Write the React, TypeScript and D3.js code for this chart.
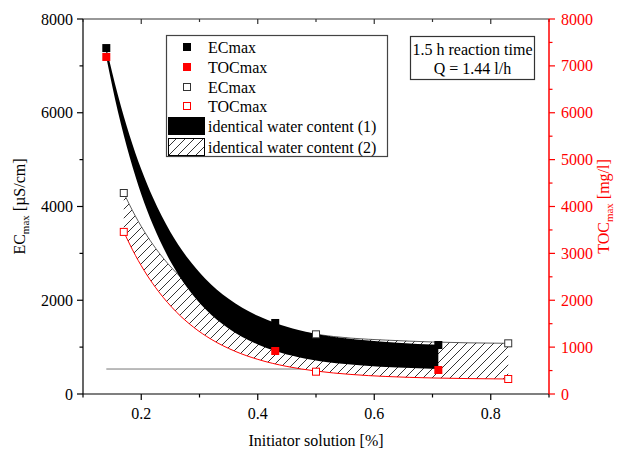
import React from "react";
import * as d3 from "d3";

// ---- data ----
const ecFilledX = [0.14, 0.43, 0.71];
const ecFilled = [7380, 1515, 1045];
const tocFilledX = [0.14, 0.43, 0.71];
const tocFilled = [7190, 917, 512];
const ecOpenX = [0.17, 0.5, 0.83];
const ecOpen = [4288, 1273, 1081];
const tocOpenX = [0.17, 0.5, 0.83];
const tocOpen = [3458, 476, 320];

// band (1): identical water content (1)
const band1X = [0.14, 0.16, 0.18, 0.2, 0.22, 0.25, 0.28, 0.31, 0.35, 0.4, 0.43, 0.47, 0.52, 0.58, 0.64, 0.71];
const band1Upper = [7386, 6371, 5514, 4793, 4190, 3458, 2895, 2461, 2032, 1669, 1515, 1364, 1236, 1150, 1095, 1050];
const band1Lower = [7186, 6019, 5059, 4263, 3609, 2832, 2250, 1813, 1396, 1055, 917, 785, 677, 610, 565, 535];

// band (2): identical water content (2)
const band2X = [0.17, 0.19, 0.21, 0.23, 0.26, 0.29, 0.32, 0.36, 0.4, 0.45, 0.5, 0.56, 0.62, 0.7, 0.76, 0.83];
const band2Upper = [4288, 3794, 3375, 3021, 2588, 2251, 1989, 1728, 1541, 1379, 1273, 1192, 1150, 1110, 1092, 1081];
const band2Lower = [3458, 2957, 2535, 2182, 1753, 1423, 1168, 917, 739, 588, 490, 417, 374, 342, 329, 320];

const refLineX = [0.14, 0.5];
const refLineValue = 533;

const xTicks = [0.2, 0.4, 0.6, 0.8];
const xMinor = [0.1, 0.3, 0.5, 0.7, 0.9];
const yLeftTicks = [0, 2000, 4000, 6000, 8000];
const yLeftMinor = [1000, 3000, 5000, 7000];
const yRightTicks = [0, 1000, 2000, 3000, 4000, 5000, 6000, 7000, 8000];
const yRightMinor = [500, 1500, 2500, 3500, 4500, 5500, 6500, 7500];
const legendLabels = ["ECmax", "TOCmax", "ECmax", "TOCmax", "identical water content (1)", "identical water content (2)"];

const W = 619, H = 450;
const L = 83, R = 549, T = 19, B = 394;
const FONT = "'Liberation Serif', 'Times New Roman', Times, serif";
const RED = "#ff0000";
const FS = 16;

export default function App() {
  const x = d3.scaleLinear().domain([0.1, 0.9]).range([L, R]);
  const y = d3.scaleLinear().domain([0, 8000]).range([B, T]);

  const area1 = d3
    .area<number>()
    .x((_, i) => x(band1X[i]))
    .y0((_, i) => y(band1Lower[i]))
    .y1((_, i) => y(band1Upper[i]))
    .curve(d3.curveMonotoneX);
  const area2 = d3
    .area<number>()
    .x((_, i) => x(band2X[i]))
    .y0((_, i) => y(band2Lower[i]))
    .y1((_, i) => y(band2Upper[i]))
    .curve(d3.curveMonotoneX);
  const line2 = d3
    .line<number>()
    .x((_, i) => x(band2X[i]))
    .y((d) => y(d))
    .curve(d3.curveMonotoneX);

  const sq = 8;
  const osq = 7;
  const legendRows = [47, 67, 87, 106, 126, 147];

  return (
    <svg
      width={W}
      height={H}
      style={{ position: "absolute", left: 0, top: 0, background: "#fff", fontFamily: FONT }}
    >
      <defs>
        <pattern id="hatch" patternUnits="userSpaceOnUse" width={9} height={9}>
          <rect width={9} height={9} fill="#fff" />
          <path d="M-1,1 L1,-1 M0,9 L9,0 M8,10 L10,8" stroke="#000" strokeWidth={0.8} />
        </pattern>
      </defs>

      {/* reference line */}
      <line
        x1={x(refLineX[0])}
        x2={x(refLineX[1])}
        y1={y(refLineValue)}
        y2={y(refLineValue)}
        stroke="#777"
        strokeWidth={1}
      />

      {/* band 2 hatched */}
      <path d={area2(band2X) || ""} fill="url(#hatch)" stroke="none" />
      <path d={line2(band2Upper) || ""} fill="none" stroke="#333" strokeWidth={0.8} />
      <path d={line2(band2Lower) || ""} fill="none" stroke={RED} strokeWidth={1} />

      {/* band 1 black */}
      <path d={area1(band1X) || ""} fill="#000" stroke="none" />

      {/* markers */}
      {tocFilled.map((v, i) => (
        <rect key={"tf" + i} x={x(tocFilledX[i]) - sq / 2} y={y(v) - sq / 2} width={sq} height={sq} fill={RED} />
      ))}
      {ecFilled.map((v, i) => (
        <rect key={"ef" + i} x={x(ecFilledX[i]) - sq / 2} y={y(v) - sq / 2} width={sq} height={sq} fill="#000" />
      ))}
      {ecOpen.map((v, i) => (
        <rect key={"eo" + i} x={x(ecOpenX[i]) - osq / 2} y={y(v) - osq / 2} width={osq} height={osq} fill="#fff" stroke="#333" strokeWidth={1} />
      ))}
      {tocOpen.map((v, i) => (
        <rect key={"to" + i} x={x(tocOpenX[i]) - osq / 2} y={y(v) - osq / 2} width={osq} height={osq} fill="#fff" stroke={RED} strokeWidth={1} />
      ))}

      {/* frame: top, left, bottom */}
      <line x1={L} x2={R} y1={T} y2={T} stroke="#333" strokeWidth={1.2} />
      <line x1={L} x2={L} y1={T} y2={B} stroke="#000" strokeWidth={1.2} />
      <line x1={L} x2={R} y1={B} y2={B} stroke="#000" strokeWidth={1.2} />

      {/* top ticks (inward) */}
      {xTicks.map((t) => (
        <line key={"tt" + t} x1={x(t)} x2={x(t)} y1={T} y2={T + 5} stroke="#333" strokeWidth={1.2} />
      ))}
      {xMinor.map((t) => (
        <line key={"tm" + t} x1={x(t)} x2={x(t)} y1={T} y2={T + 3} stroke="#333" strokeWidth={1.2} />
      ))}

      {/* bottom axis */}
      {xTicks.map((t) => (
        <g key={"bt" + t}>
          <line x1={x(t)} x2={x(t)} y1={B} y2={B + 6} stroke="#000" strokeWidth={1.2} />
          <text x={x(t)} y={B + 25} textAnchor="middle" fontSize={FS}>
            {d3.format(".1f")(t)}
          </text>
        </g>
      ))}
      {xMinor.map((t) => (
        <line key={"bm" + t} x1={x(t)} x2={x(t)} y1={B} y2={B + 3.5} stroke="#000" strokeWidth={1.2} />
      ))}
      <text x={(L + R) / 2} y={446} textAnchor="middle" fontSize={FS}>
        Initiator solution [%]
      </text>

      {/* left axis */}
      {yLeftTicks.map((t) => (
        <g key={"lt" + t}>
          <line x1={L - 6} x2={L} y1={y(t)} y2={y(t)} stroke="#000" strokeWidth={1.2} />
          <text x={L - 10} y={y(t) + 5.5} textAnchor="end" fontSize={FS}>
            {t}
          </text>
        </g>
      ))}
      {yLeftMinor.map((t) => (
        <line key={"lm" + t} x1={L - 3.5} x2={L} y1={y(t)} y2={y(t)} stroke="#000" strokeWidth={1.2} />
      ))}
      <text transform={`translate(25, ${(T + B) / 2}) rotate(-90)`} textAnchor="middle" fontSize={FS}>
        EC<tspan fontSize={11} dy={4}>max</tspan>
        <tspan dy={-4}> [µS/cm]</tspan>
      </text>

      {/* right axis (red) */}
      <line x1={R} x2={R} y1={T} y2={B} stroke={RED} strokeWidth={1.5} />
      {yRightTicks.map((t) => (
        <g key={"rt" + t}>
          <line x1={R} x2={R + 6} y1={y(t)} y2={y(t)} stroke={RED} strokeWidth={1.2} />
          <text x={R + 12} y={y(t) + 5.5} textAnchor="start" fontSize={FS} fill={RED}>
            {t}
          </text>
        </g>
      ))}
      {yRightMinor.map((t) => (
        <line key={"rm" + t} x1={R} x2={R + 3.5} y1={y(t)} y2={y(t)} stroke={RED} strokeWidth={1.2} />
      ))}
      <text
        transform={`translate(609, ${(T + B) / 2}) rotate(-90)`}
        textAnchor="middle"
        fontSize={FS}
        fill={RED}
      >
        TOC<tspan fontSize={11} dy={4}>max</tspan>
        <tspan dy={-4}> [mg/l]</tspan>
      </text>

      {/* legend */}
      <rect x={166.5} y={35.5} width={221} height={121} fill="#fff" stroke="#444" strokeWidth={1.2} />
      <rect x={187 - 4} y={legendRows[0] - 4} width={8} height={8} fill="#000" />
      <rect x={187 - 4} y={legendRows[1] - 4} width={8} height={8} fill={RED} />
      <rect x={187 - 3.5} y={legendRows[2] - 3.5} width={7} height={7} fill="#fff" stroke="#333" />
      <rect x={187 - 3.5} y={legendRows[3] - 3.5} width={7} height={7} fill="#fff" stroke={RED} />
      <rect x={168} y={legendRows[4] - 9} width={37} height={18} fill="#000" />
      <rect x={168.5} y={legendRows[5] - 8.5} width={36} height={17} fill="url(#hatch)" stroke="#000" />
      {legendLabels.map((s, i) => (
        <text key={"lg" + i} x={208} y={legendRows[i] + 5.5} fontSize={FS}>
          {s}
        </text>
      ))}

      {/* info box */}
      <rect x={410.5} y={36.5} width={124} height={43} fill="#fff" stroke="#333" strokeWidth={1.2} />
      <text x={472.5} y={54.5} textAnchor="middle" fontSize={FS}>
        1.5 h reaction time
      </text>
      <text x={472.5} y={73.5} textAnchor="middle" fontSize={FS}>
        Q = 1.44 l/h
      </text>
    </svg>
  );
}
